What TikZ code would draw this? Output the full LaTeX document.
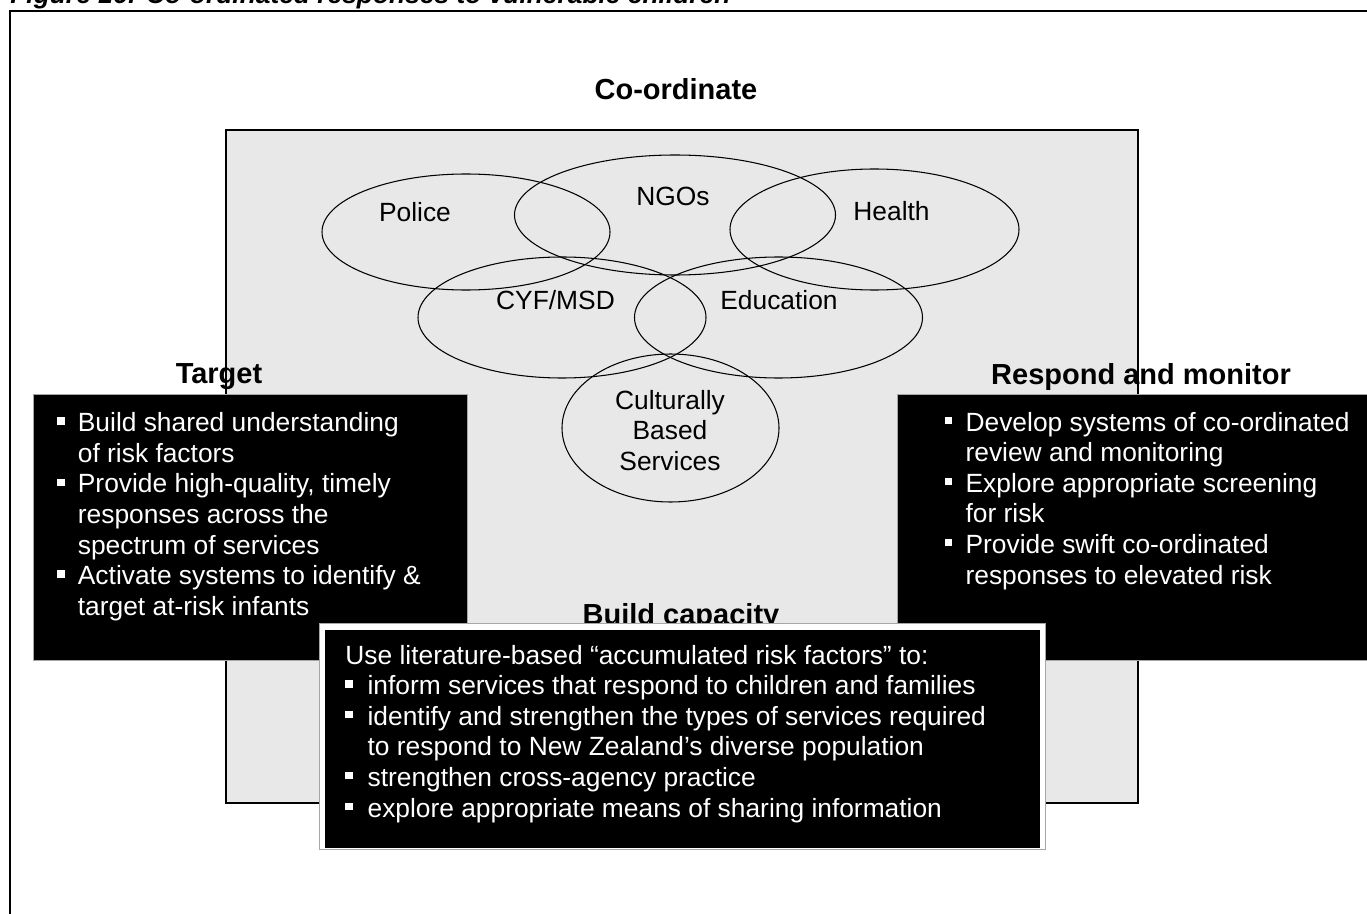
\documentclass[tikz,border=0pt]{standalone}
\usepackage{fontspec}
\setmainfont{Liberation Sans}
\usetikzlibrary{shapes.geometric,calc}
\definecolor{areagray}{RGB}{232,232,232}
\newcommand{\bul}[1][0.414cm]{\makebox[#1][l]{\rule[4pt]{4.2pt}{4.2pt}}}
\newcommand{\ind}[1][0.414cm]{\hspace*{#1}}

\begin{document}
\begin{tikzpicture}[
  agency/.style={draw,ellipse,line width=0.6pt,inner sep=0pt},
  heading/.style={font=\fontsize{16.5}{19}\selectfont\bfseries,inner sep=0pt,anchor=base},
  bodytext/.style={font=\fontsize{15}{17.4}\selectfont,inner sep=0pt,align=center},
  panel/.style={draw=gray!70,fill=black,line width=0.5pt,inner sep=0pt},
  listtext/.style={font=\fontsize{15}{17.4}\selectfont,text=white,inner sep=0pt,align=left,anchor=north west}]

  \useasboundingbox (0,0) rectangle (27.34,18.26);

  % Caption, cut by the page edge
  \node[anchor=base west,inner sep=0pt,font=\fontsize{15}{18}\selectfont\bfseries\itshape]
        (caption) at (0.2,18.19) {Figure 16: Co-ordinated responses to vulnerable children};
  % Outer frame
  \draw[line width=1.1pt] (0.2,-1) -- (0.2,18.04) -- (28,18.04);

  % Shaded co-ordination area
  \node[draw,fill=areagray,line width=1pt,minimum width=18.24cm,minimum height=13.46cm]
        (area) at (13.64,8.93) {};
  \node[heading] (coordhd) at (13.52,16.26) {Co-ordinate};

  % Agencies
  \node[agency,minimum width=5.76cm,minimum height=2.32cm] (police) at (9.32,13.62) {};
  \node[agency,minimum width=6.42cm,minimum height=2.40cm] (ngos) at (13.50,13.96) {};
  \node[agency,minimum width=5.78cm,minimum height=2.42cm] (health) at (17.49,13.67) {};
  \node[agency,minimum width=5.76cm,minimum height=2.42cm] (cyf) at (11.24,11.91) {};
  \node[agency,minimum width=5.76cm,minimum height=2.42cm] (educ) at (15.57,11.91) {};
  \node[agency,minimum width=4.34cm,minimum height=2.96cm] (cult) at (13.41,9.70) {};

  \node[bodytext] (policetxt) at (8.30,14.02) {Police};
  \node[bodytext] (ngostxt) at (13.46,14.33) {NGOs};
  \node[bodytext] (healthtxt) at (17.83,14.03) {Health};
  \node[bodytext] (cyftxt) at (11.11,12.26) {CYF/MSD};
  \node[bodytext] (eductxt) at (15.58,12.26) {Education};
  \node[bodytext] (culttxt) at (13.40,9.65) {Culturally\\Based\\Services};

  % Target
  \node[heading] (targethd) at (4.38,10.594) {Target};
  \node[panel,minimum width=8.68cm,minimum height=5.32cm] (target) at (5.00,7.72) {};
  \node[listtext] (targettxt) at ([shift={(0.486,-0.376)}]target.north west)
        {\bul Build shared understanding\\
         \ind of risk factors\\
         \bul Provide high-quality, timely\\
         \ind responses across the\\
         \ind spectrum of services\\
         \bul Activate systems to identify \&\\
         \ind target at-risk infants};

  % Respond and monitor
  \node[heading] (respondhd) at (22.82,10.58) {Respond and monitor};
  \node[panel,minimum width=9.66cm,minimum height=5.32cm] (respond) at (22.77,7.72) {};
  \node[listtext] (respondtxt) at ([shift={(0.96,-0.362)}]respond.north west)
        {\bul Develop systems of co-ordinated\\
         \ind review and monitoring\\
         \bul Explore appropriate screening\\
         \ind for risk\\
         \bul Provide swift co-ordinated\\
         \ind responses to elevated risk};

  % Build capacity
  \node[heading] (buildhd) at (13.62,5.78) {Build capacity};
  \node[draw=gray!70,fill=white,line width=0.5pt,minimum width=14.52cm,minimum height=4.52cm]
        (buildframe) at (13.64,3.54) {};
  \node[fill=black,inner sep=0pt,minimum width=14.3cm,minimum height=4.36cm] (build) at (13.65,3.48) {};
  \node[listtext] (buildtxt) at ([shift={(0.408,-0.302)}]build.north west)
        {Use literature-based “accumulated risk factors” to:\\
         \bul[0.444cm]inform services that respond to children and families\\
         \bul[0.444cm]identify and strengthen the types of services required\\
         \ind[0.444cm]to respond to New Zealand’s diverse population\\
         \bul[0.444cm]strengthen cross-agency practice\\
         \bul[0.444cm]explore appropriate means of sharing information};
\end{tikzpicture}
\end{document}
